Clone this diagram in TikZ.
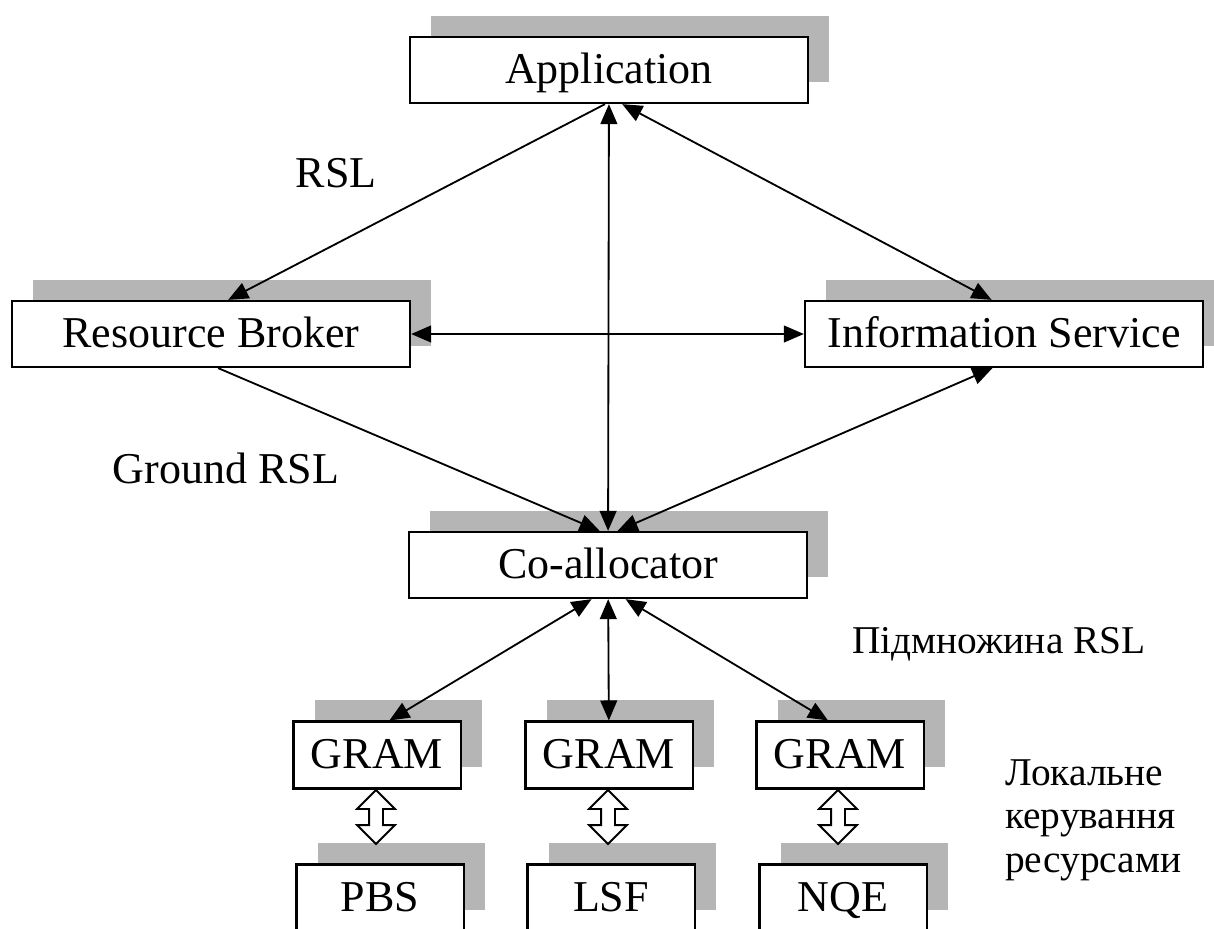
\documentclass[tikz,border=0pt]{standalone}
\usepackage{fontspec}
\setmainfont{Liberation Serif}
\usetikzlibrary{arrows.meta,shadows,shapes.arrows}

\begin{document}
\begin{tikzpicture}[x=0.025cm, y=-0.025cm,
  big/.style={font=\fontsize{31.3}{37}\selectfont},
  lbl/.style={font=\fontsize{28}{31}\selectfont},
  box/.style={big, draw, line width=1.6pt, fill=white, inner sep=0pt,
    text height=0.75cm, text depth=0.1cm,
    general shadow={fill=gray!58, shadow xshift=0.53cm, shadow yshift=0.53cm}},
  wide/.style={box, minimum width=9.95cm, minimum height=1.65cm},
  small/.style={box, minimum width=4.18cm, minimum height=1.67cm},
  link/.style={line width=1.3pt, >={Triangle[length=0.5cm,width=0.42cm]}},
  both/.style={double arrow, draw, line width=1.3pt, fill=white, rotate=90,
    minimum height=1.35cm, inner sep=0.15cm, double arrow head extend=0.3cm}]
  \clip (0,0) rectangle (1214,928);

  % top level
  \node[wide] (app) at (609,70) {Application};
  \node[wide] (rb) at (211,334) {Resource Broker};
  \node[wide] (is) at (1004,334) {Information Service};
  \node[wide] (co) at (608,565) {Co-allocator};

  % local managers
  \node[small] (g1) at (377,755) {GRAM};
  \node[small] (g2) at (609,755) {GRAM};
  \node[small] (g3) at (840,755) {GRAM};
  \node[small] (p1) at (380,898) {PBS};
  \node[small] (p2) at (611,898) {LSF};
  \node[small] (p3) at (843,898) {NQE};

  \draw[link,->] ([xshift=-0.1cm]app.south) -- ([xshift=0.43cm]rb.north);
  \draw[link,<->] ([xshift=0.33cm]app.south) -- ([xshift=-0.31cm]is.north);
  \draw[link,<->] (co) -- (app);
  \draw[link,<->] (rb) -- (is);
  \draw[link,->] ([xshift=0.18cm]rb.south) -- ([xshift=-0.21cm]co.north);
  \draw[link,<->] ([xshift=-0.29cm]is.south) -- ([xshift=0.24cm]co.north);
  \draw[link,<->] ([xshift=-0.41cm]co.south) -- ([xshift=0.31cm]g1.north);
  \draw[link,<->] (co) -- (g2);
  \draw[link,<->] ([xshift=0.44cm]co.south) -- ([xshift=-0.3cm]g3.north);

  \node[both] (d1) at (376,817) {};
  \node[both] (d2) at (608,817) {};
  \node[both] (d3) at (838,817) {};

  % labels
  \node[big, anchor=base] (rsl) at (336,187) {RSL};
  \node[big, anchor=base] (grsl) at (226,483) {Ground RSL};
  \node[lbl, anchor=base] (sub) at (999,653) {Підмножина RSL};
  \node[lbl, anchor=west, align=left, inner sep=0pt] (loc) at (1005,820)
    {Локальне\\керування\\ресурсами};
\end{tikzpicture}
\end{document}
